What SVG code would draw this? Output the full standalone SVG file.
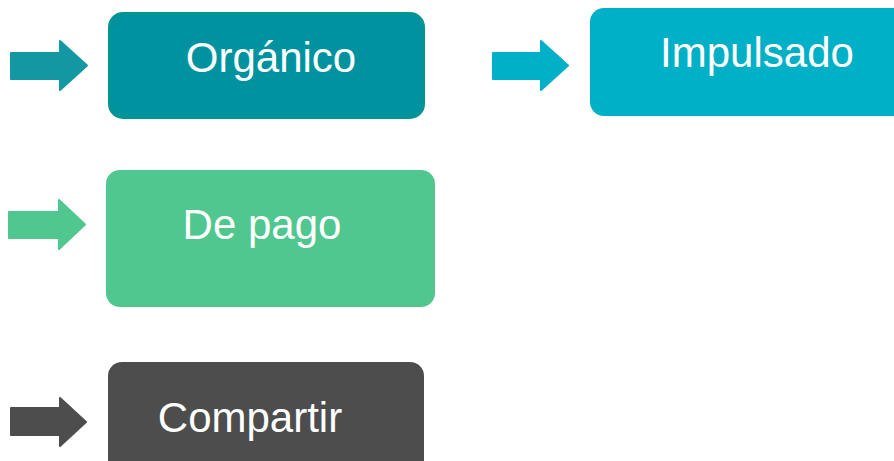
<svg xmlns="http://www.w3.org/2000/svg" width="894" height="461" viewBox="0 0 894 461">
<style>
.lbl{font-family:"Liberation Sans",Arial,sans-serif;font-size:42px;fill:#ffffff;text-anchor:middle}
.arr{stroke-linejoin:round;stroke-width:2}
</style>
<rect width="894" height="461" fill="#ffffff"/>
<g id="connectors">
<path class="arr" fill="#1198a2" stroke="#1198a2" d="M11,53 H60 V41 L87,65.5 L60,90 V79 H11 Z"/>
<path class="arr" fill="#00b0c6" stroke="#00b0c6" d="M493,53 H541 V41 L568,65.5 L541,90 V79 H493 Z"/>
<path class="arr" fill="#50c78e" stroke="#50c78e" d="M9,212 H59 V200 L85,224.5 L59,249 V238 H9 Z"/>
<path class="arr" fill="#4d4d4d" stroke="#4d4d4d" d="M11,408 H60 V398 L86,422 L60,446 V435 H11 Z"/>
</g>
<g id="organico">
<rect x="109" y="13" width="315" height="105" rx="14" fill="#00939f" stroke="#00968c" stroke-width="2"/>
<text class="lbl" x="271" y="72">Orgánico</text>
</g>
<g id="impulsado">
<rect x="590" y="8" width="320" height="108" rx="14" fill="#00b0c6"/>
<text class="lbl" x="757" y="67">Impulsado</text>
</g>
<g id="depago">
<rect x="106" y="170" width="329" height="137" rx="14" fill="#50c78e"/>
<text class="lbl" x="262" y="239">De pago</text>
</g>
<g id="compartir">
<rect x="108" y="362" width="316" height="120" rx="14" fill="#4d4d4d"/>
<text class="lbl" x="250" y="432">Compartir</text>
</g>
</svg>
